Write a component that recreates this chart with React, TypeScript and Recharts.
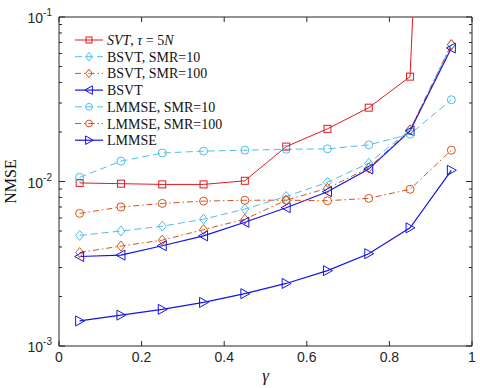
import React from 'react';
import { LineChart, Line, XAxis, YAxis, ReferenceArea } from 'recharts';

// gamma sweep and NMSE per method
const GAMMA = [0.05, 0.15, 0.25, 0.35, 0.45, 0.55, 0.65, 0.75, 0.85, 0.95];
const SVT = [0.0098, 0.0097, 0.0096, 0.0096, 0.0101, 0.0163, 0.0209, 0.0281, 0.0434, 20000];
const BSVT_SMR10 = [0.0047, 0.0050, 0.00535, 0.0059, 0.0068, 0.0081, 0.0099, 0.0129, 0.0206, 0.0676];
const BSVT_SMR100 = [0.0037, 0.00405, 0.0044, 0.0051, 0.0059, 0.0077, 0.0091, 0.0121, 0.0206, 0.068];
const BSVT = [0.0035, 0.00357, 0.00407, 0.00467, 0.00565, 0.00693, 0.00867, 0.0119, 0.0203, 0.0648];
const LMMSE_SMR10 = [0.0106, 0.0133, 0.0149, 0.0153, 0.0155, 0.0157, 0.0158, 0.0167, 0.0194, 0.0314];
const LMMSE_SMR100 = [0.0064, 0.0070, 0.00736, 0.0076, 0.00769, 0.0077, 0.00764, 0.0079, 0.00897, 0.0155];
const LMMSE = [0.00142, 0.00154, 0.00167, 0.00184, 0.00208, 0.0024, 0.00287, 0.00364, 0.00523, 0.0117];

const X_TICKS = [0, 0.2, 0.4, 0.6, 0.8, 1];
const DECADES = [-3, -2, -1];

const W = 480;
const H = 388;
const M = { top: 17, right: 8, left: 0, bottom: 0 };
const Y_AXIS_W = 59;
const X_AXIS_H = 42;
const PLOT_W = W - M.left - M.right - Y_AXIS_W;
const PLOT_H = H - M.top - M.bottom - X_AXIS_H;
const Y_MIN = 1e-3;
const Y_MAX = 1e-1;

const AXIS = '#262626';
const RED = '#e3191c';
const CYAN = '#4dbeee';
const ORANGE = '#d95319';
const BLUE = '#1414e6';

const SANS = "'Liberation Sans', Arial, Helvetica, sans-serif";
const SERIF = "'Liberation Serif', 'Times New Roman', serif";

// minor + major log ticks
const Y_TICKS: number[] = [];
DECADES.forEach((d, i) => {
  const base = Math.pow(10, d);
  if (i === DECADES.length - 1) {
    Y_TICKS.push(base);
    return;
  }
  for (let k = 1; k < 10; k++) Y_TICKS.push(k * base);
});

type Shape = 'square' | 'diamond' | 'circle' | 'triLeft' | 'triRight';

const SERIES: {
  key: string;
  name: React.ReactNode;
  values: number[];
  color: string;
  dash?: string;
  width: number;
  shape: Shape;
}[] = [
  {
    key: 'svt',
    name: (
      <>
        <tspan fontStyle="italic">SVT</tspan>
        <tspan>, </tspan>
        <tspan fontStyle="italic">τ</tspan>
        <tspan> = 5</tspan>
        <tspan fontStyle="italic">N</tspan>
      </>
    ),
    values: SVT,
    color: RED,
    width: 1,
    shape: 'square',
  },
  { key: 'bsvt10', name: 'BSVT, SMR=10', values: BSVT_SMR10, color: CYAN, dash: '7 4', width: 1, shape: 'diamond' },
  { key: 'bsvt100', name: 'BSVT, SMR=100', values: BSVT_SMR100, color: ORANGE, dash: '6 3 1.5 3', width: 1, shape: 'diamond' },
  { key: 'bsvt', name: 'BSVT', values: BSVT, color: BLUE, width: 1.2, shape: 'triLeft' },
  { key: 'lmmse10', name: 'LMMSE, SMR=10', values: LMMSE_SMR10, color: CYAN, dash: '7 4', width: 1, shape: 'circle' },
  { key: 'lmmse100', name: 'LMMSE, SMR=100', values: LMMSE_SMR100, color: ORANGE, dash: '6 3 1.5 3', width: 1, shape: 'circle' },
  { key: 'lmmse', name: 'LMMSE', values: LMMSE, color: BLUE, width: 1.2, shape: 'triRight' },
];

const data = GAMMA.map((g, i) => {
  const row: Record<string, number> = { gamma: g };
  SERIES.forEach((s) => {
    row[s.key] = s.values[i];
  });
  return row;
});

const Marker = ({ shape, cx, cy, color, k = 1 }: { shape: Shape; cx: number; cy: number; color: string; k?: number }) => {
  const common = { fill: 'none', stroke: color, strokeWidth: 1 };
  switch (shape) {
    case 'square':
      return <rect x={cx - 3.5 * k} y={cy - 3.5 * k} width={7 * k} height={7 * k} {...common} />;
    case 'diamond':
      return <polygon points={`${cx},${cy - 5 * k} ${cx + 4 * k},${cy} ${cx},${cy + 5 * k} ${cx - 4 * k},${cy}`} {...common} />;
    case 'circle':
      return <circle cx={cx} cy={cy} r={4 * k} {...common} />;
    case 'triLeft':
      return <polygon points={`${cx - 5 * k},${cy} ${cx + 4 * k},${cy - 5 * k} ${cx + 4 * k},${cy + 5 * k}`} {...common} />;
    case 'triRight':
      return <polygon points={`${cx + 5 * k},${cy} ${cx - 4 * k},${cy - 5 * k} ${cx - 4 * k},${cy + 5 * k}`} {...common} />;
  }
  return null;
};

const XTick = (props: any) => {
  const { x, y, payload } = props;
  return (
    <g>
      <line x1={x} x2={x} y1={y} y2={y - 5} stroke={AXIS} />
      <line x1={x} x2={x} y1={y - PLOT_H} y2={y - PLOT_H + 5} stroke={AXIS} />
      <text x={x} y={y + 16} textAnchor="middle" fill={AXIS} fontSize={14} fontFamily={SANS}>
        {String(payload.value)}
      </text>
    </g>
  );
};

const YTick = (props: any) => {
  const { x, y, payload } = props;
  const exp = Math.log10(payload.value);
  const major = Math.abs(exp - Math.round(exp)) < 1e-6;
  const len = major ? 6 : 3;
  return (
    <g>
      <line x1={x} x2={x + len} y1={y} y2={y} stroke={AXIS} />
      <line x1={x + PLOT_W} x2={x + PLOT_W - len} y1={y} y2={y} stroke={AXIS} />
      {major && (
        <text x={x - 7} y={y + 6} textAnchor="end" fill={AXIS} fontSize={14} fontFamily={SANS}>
          <tspan>10</tspan>
          <tspan dy={-7} fontSize={10}>{String(Math.round(exp))}</tspan>
        </text>
      )}
    </g>
  );
};

const LegendBox = () => {
  const rowH = 16.7;
  return (
    <svg
      width={170}
      height={130}
      style={{ position: 'absolute', left: 70, top: 30, pointerEvents: 'none' }}
    >
      {SERIES.map((s, i) => {
        const cy = 10 + i * rowH;
        return (
          <g key={s.key}>
            <line x1={5} x2={33} y1={cy} y2={cy} stroke={s.color} strokeWidth={s.width} strokeDasharray={s.dash} />
            <Marker shape={s.shape} cx={19} cy={cy} color={s.color} k={0.85} />
            <text x={37} y={cy + 5} fontSize={14} fill="#111" fontFamily={SERIF}>
              {s.name}
            </text>
          </g>
        );
      })}
    </svg>
  );
};

export default function App() {
  return (
    <div style={{ position: 'absolute', left: 0, top: 0, width: W, height: H, background: '#fff' }}>
      <LineChart width={W} height={H} data={data} margin={M}>
        <XAxis
          dataKey="gamma"
          type="number"
          domain={[0, 1]}
          ticks={X_TICKS}
          interval={0}
          height={X_AXIS_H}
          axisLine={false}
          tickLine={false}
          tickSize={0}
          tickMargin={0}
          tick={<XTick />}
          label={{
            content: () => (
              <text x={M.left + Y_AXIS_W + PLOT_W / 2} y={381} textAnchor="middle" fontSize={17} fontStyle="italic" fontFamily={SERIF} fill="#111">
                γ
              </text>
            ),
          }}
        />
        <YAxis
          scale="log"
          domain={[Y_MIN, Y_MAX]}
          allowDataOverflow
          ticks={Y_TICKS}
          interval={0}
          width={Y_AXIS_W}
          axisLine={false}
          tickLine={false}
          tickSize={0}
          tickMargin={0}
          tick={<YTick />}
          label={{
            content: () => (
              <text x={16} y={M.top + PLOT_H / 2} transform={`rotate(-90 16 ${M.top + PLOT_H / 2})`} textAnchor="middle" fontSize={16} fontFamily={SERIF} fill="#111">
                NMSE
              </text>
            ),
          }}
        />
        <ReferenceArea x1={0} x2={1} y1={Y_MIN} y2={Y_MAX} fill="none" stroke={AXIS} strokeWidth={1} ifOverflow="visible" />
        {SERIES.map((s) => (
          <Line
            key={s.key}
            dataKey={s.key}
            type="linear"
            stroke={s.color}
            strokeWidth={s.width}
            strokeDasharray={s.dash}
            isAnimationActive={false}
            activeDot={false}
            dot={(p: any) =>
              p.value > Y_MAX ? (
                <g key={p.key} />
              ) : (
                <g key={p.key}>
                  <Marker shape={s.shape} cx={p.cx} cy={p.cy} color={s.color} />
                </g>
              )
            }
          />
        ))}
      </LineChart>
      <LegendBox />
    </div>
  );
}
